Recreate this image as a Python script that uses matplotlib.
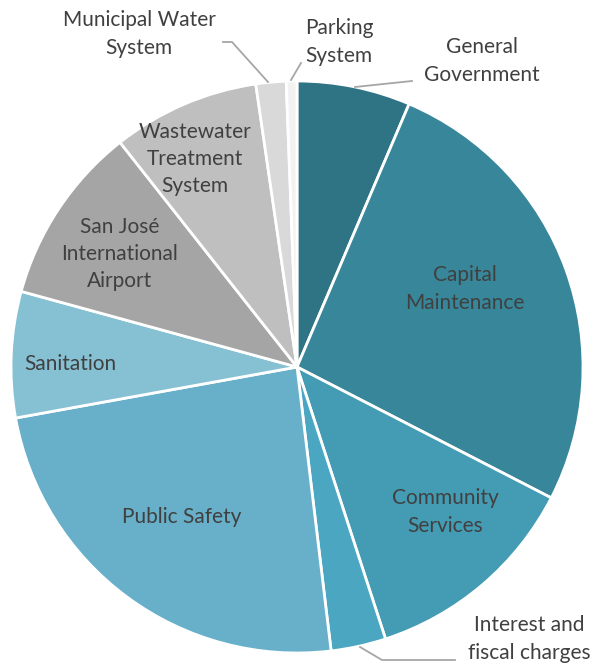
import matplotlib.pyplot as plt
import matplotlib.transforms as mtransforms

plt.rcParams['font.family'] = ['Lato', 'DejaVu Sans']

# share of total (percent), clockwise from 12 o'clock
categories = ['General\nGovernment', 'Capital\nMaintenance', 'Community\nServices',
              'Interest and\nfiscal charges', 'Public Safety', 'Sanitation',
              'San José\nInternational\nAirport', 'Wastewater\nTreatment\nSystem',
              'Municipal Water\nSystem', 'Parking\nSystem']
values = [6.4, 26.1, 12.4, 3.1, 24.0, 7.1, 10.1, 8.3, 1.7, 0.6]
colors = ['#2f7484', '#37869a', '#449bb4', '#4aa6c1', '#68b0ca',
          '#86c0d3', '#a5a5a5', '#bfbfbf', '#d9d9d9', '#f2f2f2']

W, H = 595, 665
fig = plt.figure(figsize=(W / 100, H / 100), dpi=100)
ax = fig.add_axes([0, 0, 1, 1])
ax.set_aspect('equal')
ax.axis('off')

cx, cy, r = 297, 367, 286
wedges, _ = ax.pie(values, colors=colors, startangle=90, counterclock=False,
                   center=(cx, -cy), radius=r,
                   wedgeprops=dict(edgecolor='white', linewidth=2))
# pie draws y-up, flip wedges into the pixel-like (y-down) axis
flip = mtransforms.Affine2D().scale(1, -1) + ax.transData
for w in wedges:
    w.set_transform(flip)
ax.set_xlim(0, W)
ax.set_ylim(H, 0)

txt = dict(fontsize=15, color='#404040', ha='center', va='center', linespacing=1.45)

# inside labels
ax.text(465, 289, categories[1], **txt)
ax.text(445, 512, categories[2], **txt)
ax.text(182, 517, categories[4], **txt)
ax.text(70, 364, categories[5], **txt)
ax.text(120, 254, categories[6], **txt)
ax.text(195, 159, categories[7], **txt)

# outside labels with leader lines
lc = '#a6a6a6'
ax.text(482, 61, categories[0], **txt)
ax.plot([355, 412], [87, 81], color=lc, lw=1.3)
ax.text(529, 639, categories[3], **txt)
ax.plot([360, 382, 455], [647, 660, 660], color=lc, lw=1.3)
ax.text(139, 34, categories[8], **txt)
ax.plot([223, 232, 268], [42, 42, 82], color=lc, lw=1.3)
ax.text(339, 42, categories[9], **txt)
ax.plot([301, 291], [63, 80], color=lc, lw=1.3)

fig.savefig('out.png', dpi=100)
